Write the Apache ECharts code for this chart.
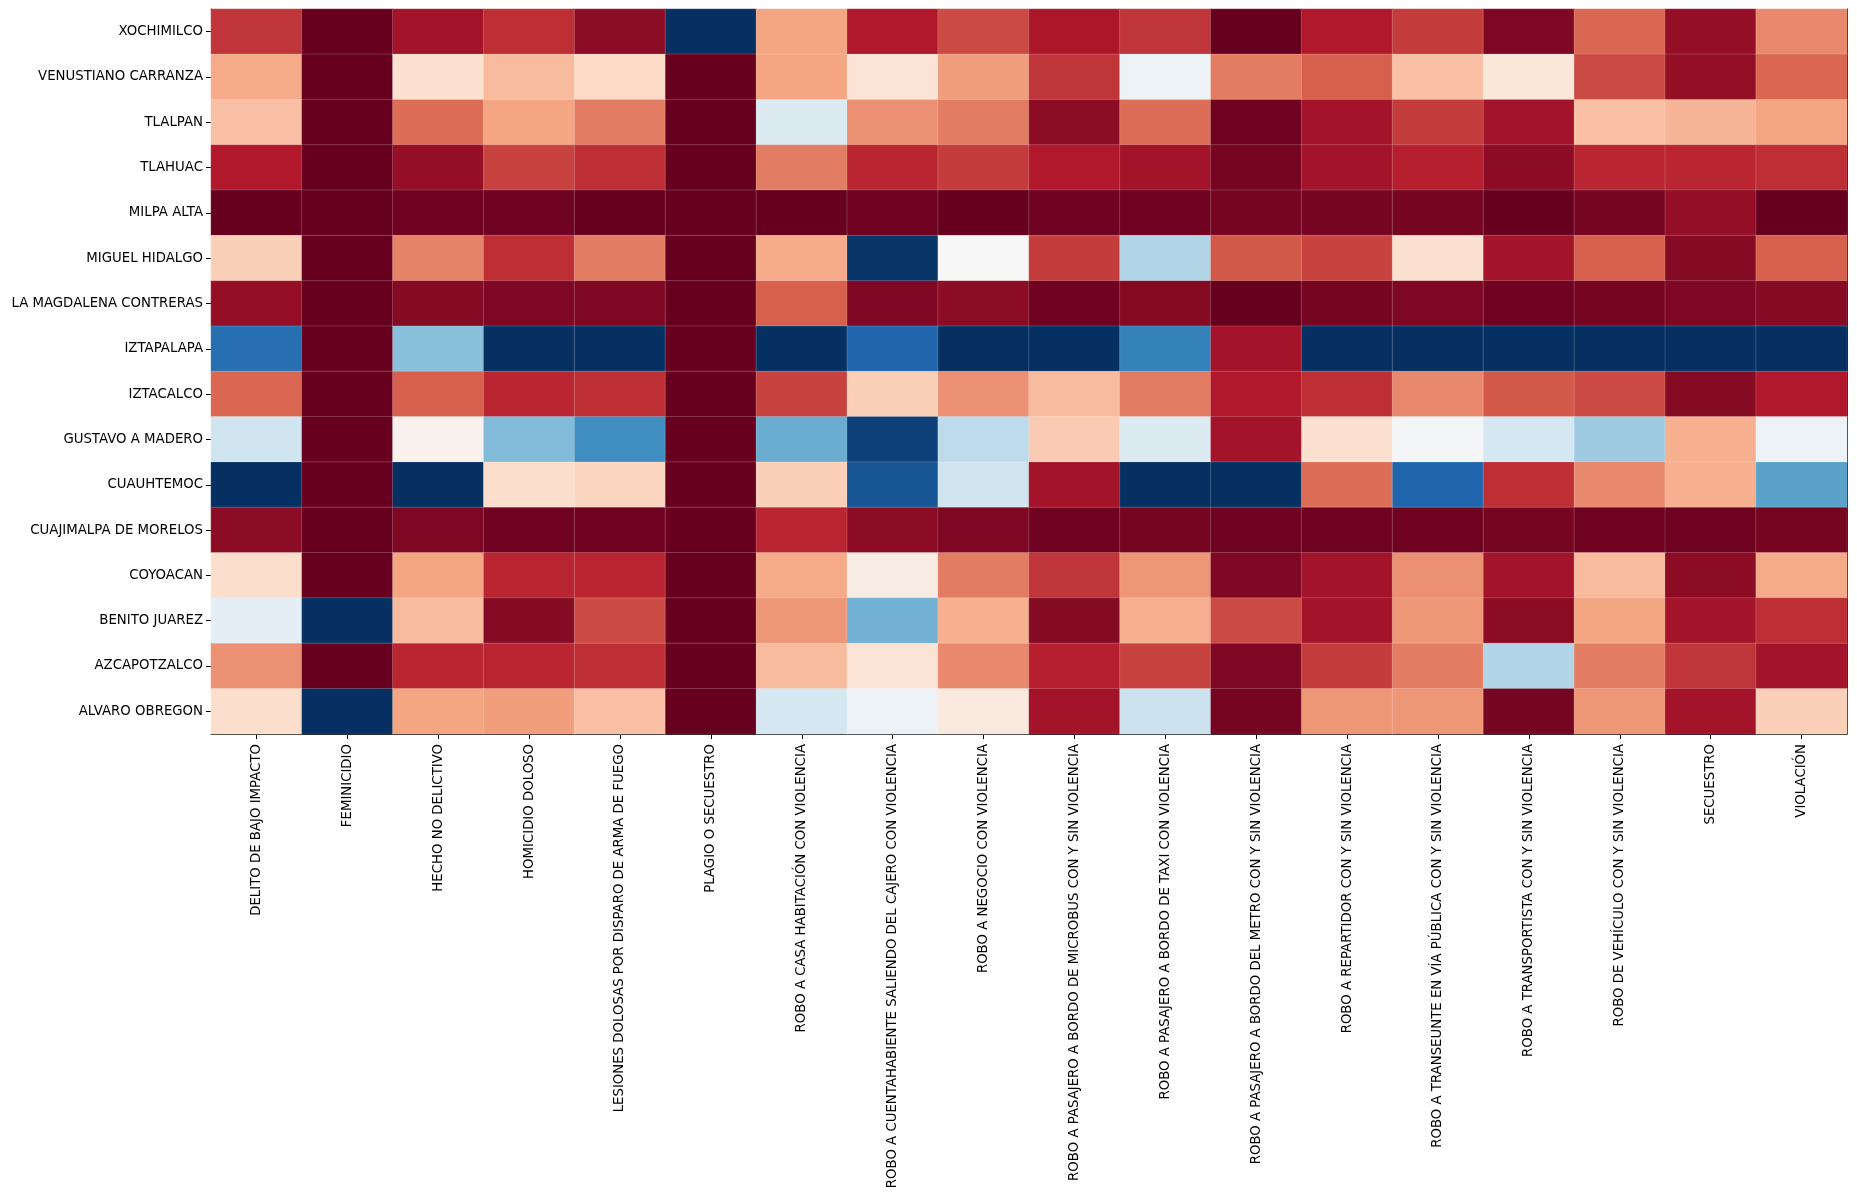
<!DOCTYPE html>
<html>
<head>
<meta charset="utf-8">
<script src="https://cdn.jsdelivr.net/npm/echarts@6/dist/echarts.min.js"></script>
<style>html,body{margin:0;padding:0;background:#fff}#c{width:1857px;height:1199px}</style>
</head>
<body>
<div id="c"></div>
<script>
const crimes = [
  "DELITO DE BAJO IMPACTO","FEMINICIDIO","HECHO NO DELICTIVO","HOMICIDIO DOLOSO",
  "LESIONES DOLOSAS POR DISPARO DE ARMA DE FUEGO","PLAGIO O SECUESTRO",
  "ROBO A CASA HABITACIÓN CON VIOLENCIA","ROBO A CUENTAHABIENTE SALIENDO DEL CAJERO CON VIOLENCIA",
  "ROBO A NEGOCIO CON VIOLENCIA","ROBO A PASAJERO A BORDO DE MICROBUS CON Y SIN VIOLENCIA",
  "ROBO A PASAJERO A BORDO DE TAXI CON VIOLENCIA","ROBO A PASAJERO A BORDO DEL METRO CON Y SIN VIOLENCIA",
  "ROBO A REPARTIDOR CON Y SIN VIOLENCIA","ROBO A TRANSEUNTE EN VÍA PÚBLICA CON Y SIN VIOLENCIA",
  "ROBO A TRANSPORTISTA CON Y SIN VIOLENCIA","ROBO DE VEHÍCULO CON Y SIN VIOLENCIA",
  "SECUESTRO","VIOLACIÓN"
];
const districts = [
  "XOCHIMILCO","VENUSTIANO CARRANZA","TLALPAN","TLAHUAC","MILPA ALTA","MIGUEL HIDALGO",
  "LA MAGDALENA CONTRERAS","IZTAPALAPA","IZTACALCO","GUSTAVO A MADERO","CUAUHTEMOC",
  "CUAJIMALPA DE MORELOS","COYOACAN","BENITO JUAREZ","AZCAPOTZALCO","ALVARO OBREGON"
];
// normalized values (0 = lowest, 1 = highest), one row per district, columns follow `crimes`
const xochimilco   = [0.14,0.00,0.08,0.13,0.05,1.00,0.30,0.10,0.17,0.09,0.14,0.00,0.10,0.15,0.03,0.21,0.06,0.26];
const venustiano   = [0.31,0.00,0.42,0.34,0.40,0.00,0.30,0.43,0.29,0.14,0.53,0.24,0.20,0.35,0.44,0.17,0.06,0.21];
const tlalpan      = [0.35,0.00,0.22,0.30,0.24,0.00,0.57,0.27,0.24,0.05,0.22,0.01,0.08,0.15,0.08,0.35,0.33,0.30];
const tlahuac      = [0.10,0.00,0.06,0.16,0.13,0.00,0.24,0.12,0.15,0.10,0.08,0.02,0.08,0.11,0.05,0.12,0.12,0.13];
const milpaAlta    = [0.00,0.00,0.01,0.01,0.00,0.00,0.00,0.01,0.00,0.01,0.01,0.02,0.02,0.02,0.00,0.02,0.06,0.00];
const miguelHidalgo= [0.38,0.00,0.25,0.13,0.24,0.00,0.31,0.99,0.50,0.15,0.65,0.19,0.16,0.42,0.08,0.20,0.04,0.20];
const magdalena    = [0.06,0.00,0.04,0.03,0.03,0.00,0.20,0.03,0.05,0.01,0.04,0.00,0.02,0.03,0.01,0.02,0.03,0.04];
const iztapalapa   = [0.88,0.00,0.71,1.00,1.00,0.00,1.00,0.90,1.00,1.00,0.84,0.08,1.00,1.00,1.00,1.00,1.00,1.00];
const iztacalco    = [0.21,0.00,0.20,0.12,0.13,0.00,0.16,0.38,0.27,0.34,0.24,0.10,0.13,0.26,0.19,0.17,0.04,0.10];
const gustavo      = [0.60,0.00,0.48,0.72,0.81,0.00,0.75,0.97,0.63,0.37,0.57,0.08,0.42,0.51,0.59,0.68,0.32,0.53];
const cuauhtemoc   = [1.00,0.00,1.00,0.41,0.39,0.00,0.38,0.93,0.60,0.08,1.00,1.00,0.22,0.90,0.13,0.26,0.32,0.77];
const cuajimalpa   = [0.05,0.00,0.03,0.01,0.01,0.00,0.12,0.05,0.03,0.01,0.02,0.01,0.01,0.01,0.02,0.01,0.01,0.02];
const coyoacan     = [0.41,0.00,0.30,0.12,0.12,0.00,0.31,0.46,0.24,0.14,0.28,0.03,0.08,0.27,0.08,0.34,0.05,0.31];
const benitoJuarez = [0.55,1.00,0.34,0.04,0.17,0.00,0.28,0.74,0.32,0.04,0.32,0.17,0.08,0.28,0.05,0.30,0.08,0.13];
const azcapotzalco = [0.27,0.00,0.12,0.12,0.13,0.00,0.34,0.43,0.26,0.11,0.16,0.03,0.15,0.24,0.65,0.24,0.14,0.08];
const alvaroObregon= [0.41,1.00,0.30,0.29,0.35,0.00,0.59,0.53,0.45,0.08,0.61,0.02,0.28,0.28,0.02,0.28,0.08,0.38];

const rows = [xochimilco,venustiano,tlalpan,tlahuac,milpaAlta,miguelHidalgo,magdalena,iztapalapa,
  iztacalco,gustavo,cuauhtemoc,cuajimalpa,coyoacan,benitoJuarez,azcapotzalco,alvaroObregon];

const data = [];
rows.forEach((r, yi) => r.forEach((v, xi) => data.push([xi, yi, v])));

const rdbu = ['#67001f','#b2182b','#d6604d','#f4a582','#fddbc7','#f7f7f7','#d1e5f0','#92c5de','#4393c3','#2166ac','#053061'];
const font = 'DejaVu Sans';

const chart = echarts.init(document.getElementById('c'), null, {renderer: 'canvas'});
chart.setOption({
  animation: false,
  backgroundColor: '#fff',
  grid: {left: 211, top: 9, right: 10, bottom: 465, containLabel: false},
  visualMap: {show: false, min: 0, max: 1, calculable: false, inRange: {color: rdbu}},
  xAxis: [{
    type: 'category', data: crimes, position: 'bottom',
    axisLine: {show: true, lineStyle: {color: '#000', width: 1}},
    axisTick: {show: true, alignWithLabel: true, length: 5, lineStyle: {color: '#000'}},
    axisLabel: {rotate: 90, interval: 0, margin: 10, color: '#000', fontFamily: font, fontSize: 13.3},
    splitLine: {show: false}, splitArea: {show: false}
  }, {
    type: 'category', data: crimes, position: 'top',
    axisLine: {show: true, lineStyle: {color: '#000', width: 1}},
    axisTick: {show: false}, axisLabel: {show: false}, splitLine: {show: false}
  }],
  yAxis: [{
    type: 'category', data: districts, inverse: true, position: 'left',
    axisLine: {show: true, lineStyle: {color: '#000', width: 1}},
    axisTick: {show: true, alignWithLabel: true, length: 5, lineStyle: {color: '#000'}},
    axisLabel: {interval: 0, margin: 8, color: '#000', fontFamily: font, fontSize: 13.3},
    splitLine: {show: false}, splitArea: {show: false}
  }, {
    type: 'category', data: districts, inverse: true, position: 'right',
    axisLine: {show: true, lineStyle: {color: '#000', width: 1}},
    axisTick: {show: false}, axisLabel: {show: false}, splitLine: {show: false}
  }],
  series: [{
    type: 'heatmap', data: data, xAxisIndex: 0, yAxisIndex: 0,
    itemStyle: {borderColor: 'rgba(255,255,255,0.18)', borderWidth: 1},
    emphasis: {disabled: true}
  }]
});
</script>
</body>
</html>
